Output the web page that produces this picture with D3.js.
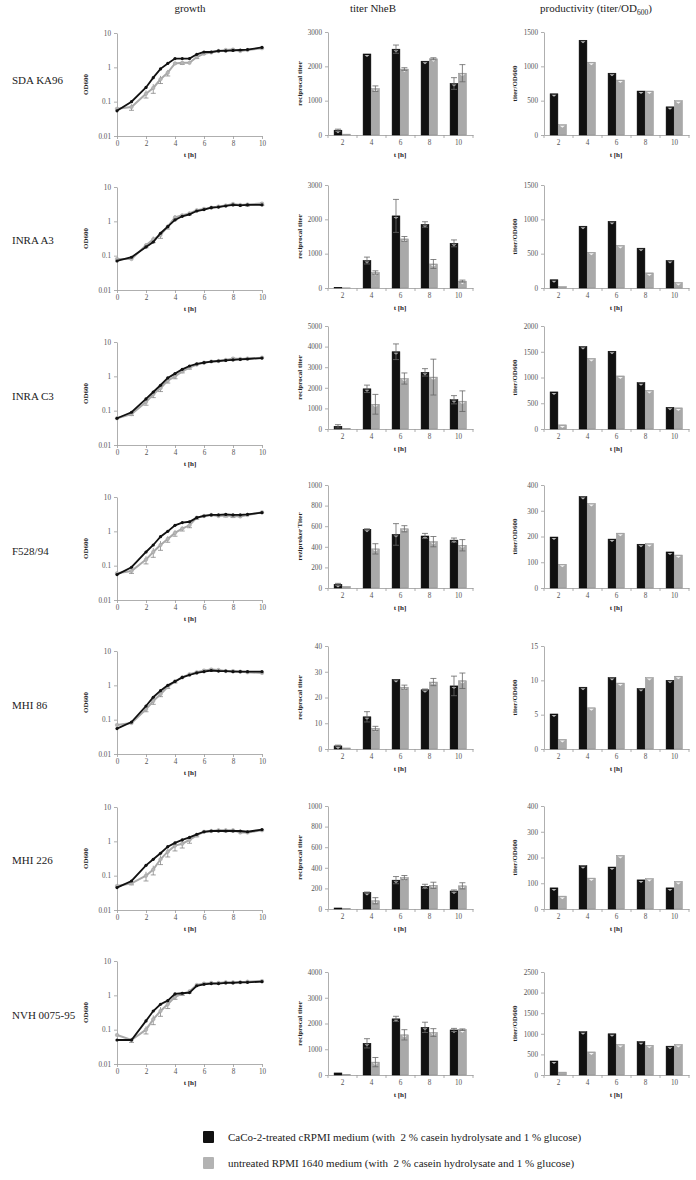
<!DOCTYPE html>
<html lang="en">
<head>
<meta charset="utf-8">
<script src="https://cdn.jsdelivr.net/npm/d3@7"></script>
<style>
  body { margin: 0; background: #fff; }
  text { font-family: "Liberation Serif", "DejaVu Serif", serif; }
  .ax path, .ax line { stroke: #9a9a9a; stroke-width: 0.8; }
  .ax text { fill: #555; font-size: 7.2px; font-family: "Liberation Serif", serif; }
</style>
</head>
<body>
<script>

// strains (rows) and sampling times
var strains = ["SDA KA96", "INRA A3", "INRA C3", "F528/94", "MHI 86", "MHI 226", "NVH 0075-95"];
var times = [0, 1, 2, 2.5, 3, 3.5, 4, 4.5, 5, 5.5, 6, 6.5, 7, 7.5, 8, 8.5, 9, 10];
var hours = [2, 4, 6, 8, 10];

// OD600 growth curves, CaCo-2-treated cRPMI (black) and untreated RPMI (grey)
var odCaco = [
  [0.054, 0.1, 0.26, 0.5, 0.9, 1.3, 1.8, 1.8, 1.8, 2.4, 2.8, 2.8, 3.0, 3.0, 3.1, 3.2, 3.3, 3.8],
  [0.07, 0.09, 0.18, 0.25, 0.45, 0.7, 1.1, 1.4, 1.6, 2.0, 2.2, 2.5, 2.6, 2.8, 3.0, 2.9, 3.0, 3.0],
  [0.06, 0.09, 0.22, 0.35, 0.55, 0.9, 1.2, 1.6, 2.0, 2.3, 2.5, 2.7, 2.8, 2.9, 3.0, 3.1, 3.2, 3.4],
  [0.055, 0.09, 0.25, 0.4, 0.7, 1.0, 1.5, 1.8, 1.9, 2.5, 2.8, 3.0, 3.0, 3.1, 3.0, 3.0, 3.1, 3.5],
  [0.055, 0.085, 0.25, 0.45, 0.7, 1.0, 1.3, 1.7, 2.0, 2.3, 2.5, 2.7, 2.6, 2.6, 2.5, 2.5, 2.5, 2.5],
  [0.045, 0.07, 0.2, 0.3, 0.45, 0.7, 0.9, 1.1, 1.3, 1.6, 1.9, 2.0, 2.0, 2.0, 2.0, 2.0, 1.9, 2.2],
  [0.05, 0.05, 0.18, 0.35, 0.55, 0.7, 1.1, 1.15, 1.2, 1.9, 2.1, 2.2, 2.2, 2.3, 2.3, 2.4, 2.4, 2.5]
];
var odRpmi = [
  [0.062, 0.07, 0.17, 0.25, 0.45, 0.7, 1.3, 1.35, 1.35, 2.0, 2.5, 2.7, 3.0, 3.2, 3.3, 3.0, 3.2, 3.6],
  [0.08, 0.08, 0.2, 0.3, 0.4, 0.7, 1.3, 1.5, 1.7, 2.1, 2.3, 2.5, 2.7, 2.9, 3.2, 3.0, 3.1, 3.3],
  [0.06, 0.08, 0.18, 0.3, 0.45, 0.75, 1.0, 1.4, 1.8, 2.2, 2.5, 2.7, 2.8, 3.0, 3.3, 3.2, 3.3, 3.5],
  [0.06, 0.07, 0.15, 0.25, 0.4, 0.6, 0.9, 1.2, 1.5, 2.5, 2.8, 3.0, 2.8, 2.9, 2.8, 2.7, 3.0, 3.6],
  [0.07, 0.08, 0.2, 0.35, 0.55, 0.9, 1.3, 1.7, 2.1, 2.4, 2.7, 2.9, 2.8, 2.6, 2.6, 2.5, 2.4, 2.3],
  [0.05, 0.06, 0.1, 0.15, 0.3, 0.5, 0.75, 0.85, 1.1, 1.5, 1.9, 2.0, 2.1, 2.1, 2.1, 1.8, 1.8, 2.1],
  [0.07, 0.05, 0.1, 0.2, 0.35, 0.55, 0.9, 1.1, 1.3, 2.0, 2.2, 2.3, 2.3, 2.4, 2.4, 2.4, 2.5, 2.6]
];
// relative error of the grey growth points
var odErrRpmi = [
  [0, 0.2, 0.25, 0.3, 0.25, 0.2, 0, 0.1, 0, 0.1, 0, 0, 0, 0, 0.1, 0, 0, 0],
  [0, 0, 0.15, 0.2, 0.2, 0.15, 0.15, 0, 0.1, 0, 0, 0, 0, 0, 0.1, 0, 0.1, 0.1],
  [0, 0.1, 0.2, 0.2, 0.2, 0.15, 0.15, 0.1, 0.1, 0, 0, 0, 0, 0, 0.1, 0, 0, 0],
  [0, 0.15, 0.25, 0.3, 0.3, 0.2, 0.2, 0.15, 0.15, 0.1, 0, 0, 0, 0.1, 0.1, 0, 0, 0],
  [0, 0, 0.15, 0.2, 0.15, 0.1, 0.1, 0, 0, 0, 0, 0, 0, 0, 0, 0, 0, 0],
  [0, 0.1, 0.3, 0.3, 0.3, 0.3, 0.3, 0.25, 0.2, 0.1, 0, 0, 0, 0.1, 0.1, 0, 0, 0],
  [0, 0.15, 0.25, 0.3, 0.3, 0.25, 0.15, 0.1, 0.1, 0, 0, 0, 0, 0, 0, 0, 0, 0]
];

// reciprocal titer NheB at 2,4,6,8,10 h
var titerCaco = [
  [140, 2360, 2500, 2150, 1500],
  [20, 800, 2100, 1850, 1300],
  [130, 1950, 3750, 2750, 1420],
  [35, 570, 520, 505, 465],
  [1.2, 12.5, 27, 23, 24.5],
  [10, 160, 280, 220, 175],
  [80, 1230, 2180, 1850, 1750]
];
var titerCacoErr = [
  [30, 0, 120, 0, 170],
  [0, 100, 480, 80, 100],
  [80, 180, 380, 180, 200],
  [10, 5, 105, 25, 20],
  [0.3, 2, 0, 0.3, 3.8],
  [0, 5, 35, 20, 10],
  [0, 180, 100, 200, 60]
];
var titerRpmi = [
  [25, 1350, 1920, 2220, 1800],
  [5, 450, 1430, 700, 200],
  [30, 1200, 2450, 2520, 1350],
  [15, 380, 575, 450, 415],
  [0.4, 8, 24, 26, 26.5],
  [5, 80, 305, 230, 225],
  [20, 500, 1560, 1650, 1760]
];
var titerRpmiErr = [
  [0, 80, 40, 30, 250],
  [0, 50, 70, 130, 30],
  [0, 480, 270, 870, 500],
  [0, 50, 30, 50, 55],
  [0, 0.8, 0.8, 1.4, 3],
  [0, 30, 20, 30, 30],
  [0, 180, 200, 150, 30]
];
var titerTicks = [
  [0, 1000, 2000, 3000],
  [0, 1000, 2000, 3000],
  [0, 1000, 2000, 3000, 4000, 5000],
  [0, 200, 400, 600, 800, 1000],
  [0, 10, 20, 30, 40],
  [0, 200, 400, 600, 800, 1000],
  [0, 1000, 2000, 3000, 4000]
];
var titerLabels = ["reciprocal titer", "reciprocal titer", "reciprocal titer", "reziproker Titer",
                   "reciprocal titer", "reciprocal titer", "reciprocal titer"];

// productivity titer/OD600
var prodCaco = [
  [600, 1380, 900, 640, 410],
  [120, 900, 970, 580, 400],
  [720, 1600, 1510, 900, 420],
  [198, 355, 190, 170, 140],
  [5.1, 9, 10.4, 8.8, 10],
  [82, 168, 163, 113, 82],
  [340, 1050, 1000, 810, 700]
];
var prodRpmi = [
  [150, 1060, 800, 640, 500],
  [20, 520, 620, 220, 80],
  [80, 1370, 1030, 750, 410],
  [92, 328, 213, 172, 128],
  [1.4, 6, 9.6, 10.4, 10.6],
  [50, 120, 208, 118, 107],
  [70, 560, 740, 720, 740]
];
var prodTicks = [
  [0, 500, 1000, 1500],
  [0, 500, 1000, 1500],
  [0, 500, 1000, 1500, 2000],
  [0, 100, 200, 300, 400],
  [0, 5, 10, 15],
  [0, 100, 200, 300, 400],
  [0, 500, 1000, 1500, 2000, 2500]
];

var legendText = [
  "CaCo-2-treated cRPMI medium (with  2 % casein hydrolysate and 1 % glucose)",
  "untreated RPMI 1640 medium (with  2 % casein hydrolysate and 1 % glucose)"
];

// ---- layout ----
var W = 696, H = 1180, plotH = 103;
var growthTop = [33, 187, 342, 497, 651, 807, 961];
var barTop = [32, 185, 326, 485, 646, 806, 972];
var rowLabelY = [80, 240, 396, 551, 705, 860, 1015];
var black = "#111", grey = "#a9a9a9";

var svg = d3.select("body").append("svg").attr("width", W).attr("height", H);

// column headers
svg.append("text").attr("x", 190).attr("y", 12).attr("text-anchor", "middle")
  .style("font-size", "11px").attr("fill", "#222").text("growth");
svg.append("text").attr("x", 373).attr("y", 12).attr("text-anchor", "middle")
  .style("font-size", "11px").attr("fill", "#222").text("titer NheB");
var ph = svg.append("text").attr("x", 596).attr("y", 12).attr("text-anchor", "middle")
  .style("font-size", "11px").attr("fill", "#222");
ph.append("tspan").text("productivity (titer/OD");
ph.append("tspan").attr("dy", 2.5).style("font-size", "7.5px").text("600");
ph.append("tspan").attr("dy", -2.5).text(")");

function ylabel(x, yc, txt){
  svg.append("text").attr("transform", "translate(" + x + "," + yc + ") rotate(-90)")
    .attr("text-anchor", "middle").style("font-size", "7px").style("font-weight", "bold")
    .attr("fill", "#222").text(txt);
}
function xlabel(x, y){
  svg.append("text").attr("x", x).attr("y", y).attr("text-anchor", "middle")
    .style("font-size", "7px").style("font-weight", "bold").attr("fill", "#222").text("t [h]");
}

function drawGrowth(r){
  var top = growthTop[r], bottom = top + plotH;
  var x = d3.scaleLinear().domain([0, 10]).range([117, 262]);
  var y = d3.scaleLog().domain([0.01, 10]).range([bottom, top]);

  svg.append("g").attr("class", "ax").attr("transform", "translate(117,0)")
    .call(d3.axisLeft(y).tickValues([0.01, 0.1, 1, 10]).tickFormat(function(d){ return String(d); })
      .tickSize(3).tickSizeOuter(0).tickPadding(3));
  svg.append("g").attr("class", "ax").attr("transform", "translate(0," + bottom + ")")
    .call(d3.axisBottom(x).tickValues([0, 2, 4, 6, 8, 10]).tickSize(3).tickSizeOuter(0).tickPadding(2));

  ylabel(88, (top + bottom) / 2, "OD600");
  xlabel(190, bottom + 21);

  var line = d3.line().x(function(d, i){ return x(times[i]); }).y(function(d){ return y(d); });
  var g = svg.append("g");

  // error bars of grey series
  odRpmi[r].forEach(function(v, i){
    var e = odErrRpmi[r][i];
    if (!e) return;
    var xx = x(times[i]), y1 = y(v * (1 - e)), y2 = y(v * (1 + e));
    g.append("line").attr("x1", xx).attr("x2", xx).attr("y1", y1).attr("y2", y2)
      .attr("stroke", "#777").attr("stroke-width", 0.7);
    g.append("line").attr("x1", xx - 2.5).attr("x2", xx + 2.5).attr("y1", y1).attr("y2", y1)
      .attr("stroke", "#777").attr("stroke-width", 0.7);
  });

  g.append("path").datum(odRpmi[r]).attr("d", line).attr("fill", "none")
    .attr("stroke", grey).attr("stroke-width", 2);
  g.selectAll(".pg").data(odRpmi[r]).enter().append("circle")
    .attr("cx", function(d, i){ return x(times[i]); }).attr("cy", function(d){ return y(d); })
    .attr("r", 1.8).attr("fill", "#b5b5b5").attr("stroke", "#999").attr("stroke-width", 0.4);

  g.append("path").datum(odCaco[r]).attr("d", line).attr("fill", "none")
    .attr("stroke", black).attr("stroke-width", 1.8);
  g.selectAll(".pb").data(odCaco[r]).enter().append("circle")
    .attr("cx", function(d, i){ return x(times[i]); }).attr("cy", function(d){ return y(d); })
    .attr("r", 1.6).attr("fill", black);
}

function drawBars(r, left, caco, cacoErr, rpmi, rpmiErr, ticks, ylab, ylabX){
  var top = barTop[r], bottom = top + plotH;
  var x0 = d3.scaleBand().domain(hours).range([left, left + 145]).paddingInner(0.42).paddingOuter(0.21);
  var x1 = d3.scaleBand().domain([0, 1]).range([0, x0.bandwidth()]);
  var y = d3.scaleLinear().domain([0, ticks[ticks.length - 1]]).range([bottom, top]);

  svg.append("g").attr("class", "ax").attr("transform", "translate(" + left + ",0)")
    .call(d3.axisLeft(y).tickValues(ticks).tickFormat(d3.format("d")).tickSize(3).tickSizeOuter(0).tickPadding(3));
  var xa = svg.append("g").attr("class", "ax").attr("transform", "translate(0," + bottom + ")")
    .call(d3.axisBottom(x0).tickSize(0).tickSizeOuter(0).tickPadding(5));
  // category boundary ticks
  var bounds = [left].concat(hours.map(function(h){ return x0(h) + x0.bandwidth() / 2 + x0.step() / 2; }));
  xa.selectAll(".bt").data(bounds).enter().append("line")
    .attr("x1", function(d){ return d; }).attr("x2", function(d){ return d; })
    .attr("y1", 0).attr("y2", 3);

  ylabel(ylabX, (top + bottom) / 2, ylab);
  xlabel(left + 72, bottom + 22);

  var series = [
    { vals: caco, err: cacoErr, fill: black, stroke: "#000" },
    { vals: rpmi, err: rpmiErr, fill: grey, stroke: "#8a8a8a" }
  ];
  var g = svg.append("g");
  series.forEach(function(s, k){
    s.vals.forEach(function(v, i){
      var bx = x0(hours[i]) + x1(k), bw = x1.bandwidth() - 0.6, by = y(v);
      g.append("rect").attr("x", bx).attr("y", by).attr("width", bw).attr("height", bottom - by)
        .attr("fill", s.fill).attr("stroke", s.stroke).attr("stroke-width", 0.5);
      if (bottom - by > 3) {
        var cx = bx + bw / 2;
        g.append("path")
          .attr("d", "M" + (cx - 2.5) + "," + (by + 1) + "L" + (cx + 2.5) + "," + (by + 1) + "L" + cx + "," + (by + 3) + "Z")
          .attr("fill", k === 0 ? "#bbb" : "#f2f2f2");
      }
      var e = s.err ? s.err[i] : 0;
      if (e) {
        var y1 = y(Math.max(0, v - e)), y2 = y(v + e);
        g.append("line").attr("x1", bx + bw / 2).attr("x2", bx + bw / 2).attr("y1", y1).attr("y2", y2)
          .attr("stroke", "#666").attr("stroke-width", 0.8);
        [y1, y2].forEach(function(yy){
          g.append("line").attr("x1", bx + bw / 2 - 3).attr("x2", bx + bw / 2 + 3).attr("y1", yy).attr("y2", yy)
            .attr("stroke", "#666").attr("stroke-width", 0.8);
        });
      }
    });
  });
}

strains.forEach(function(name, r){
  svg.append("text").attr("x", 12).attr("y", rowLabelY[r]).attr("dy", "0.35em")
    .style("font-size", "11px").attr("fill", "#222").text(name);
  drawGrowth(r);
  drawBars(r, 328, titerCaco[r], titerCacoErr[r], titerRpmi[r], titerRpmiErr[r], titerTicks[r], titerLabels[r], 302);
  drawBars(r, 544, prodCaco[r], null, prodRpmi[r], null, prodTicks[r], "titer/OD600", 517);
});

// legend
var leg = svg.append("g");
legendText.forEach(function(t, i){
  leg.append("rect").attr("x", 203).attr("y", 1131 + i * 26).attr("width", 11).attr("height", 12)
    .attr("rx", 1).attr("fill", i === 0 ? black : "#b3b3b3");
  leg.append("text").attr("x", 228).attr("y", 1137 + i * 26).attr("dy", "0.35em")
    .style("font-size", "11px").style("white-space", "pre").attr("fill", "#222").text(t);
});

</script>
</body>
</html>
